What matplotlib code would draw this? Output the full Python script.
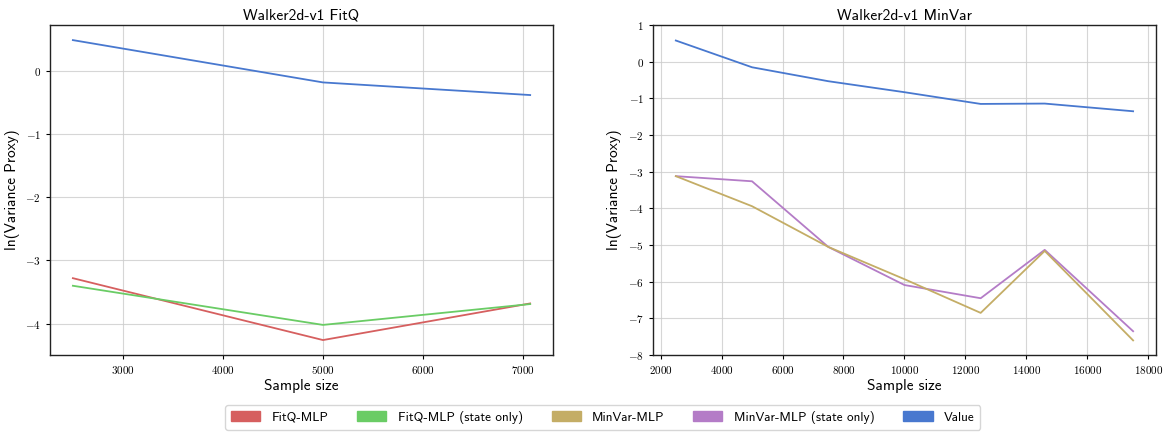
import numpy as np
import matplotlib
matplotlib.use("Agg")
import matplotlib.pyplot as plt
from matplotlib.patches import Patch

# FitQ panel
fitq_x = [2500, 5000, 7071]
fitq_mlp = [-3.28, -4.26, -3.68]
fitq_mlp_state = [-3.40, -4.02, -3.69]
fitq_value = [0.49, -0.18, -0.38]

# MinVar panel
minvar_x = [2500, 5000, 7500, 10000, 12500, 14600, 17500]
minvar_mlp = [-3.12, -3.94, -5.05, -5.93, -6.85, -5.16, -7.60]
minvar_mlp_state = [-3.12, -3.26, -5.05, -6.09, -6.45, -5.13, -7.35]
minvar_value = [0.58, -0.15, -0.53, -0.83, -1.15, -1.14, -1.35]

labels = ["FitQ-MLP", "FitQ-MLP (state only)", "MinVar-MLP", "MinVar-MLP (state only)", "Value"]
colors = ["#D65F5F", "#6ACC65", "#C4AD66", "#B47CC7", "#4878CF"]

plt.rcParams["font.family"] = "cmr10"
plt.rcParams["mathtext.fontset"] = "cm"
plt.rcParams["axes.formatter.use_mathtext"] = True
plt.rcParams["axes.unicode_minus"] = True

fig = plt.figure(figsize=(11.66, 4.33), dpi=100)
ax1 = fig.add_axes([0.0429, 0.180, 0.4314, 0.762])
ax2 = fig.add_axes([0.5600, 0.180, 0.4314, 0.762])

ax1.plot(fitq_x, fitq_value, color=colors[4], lw=1.3)
ax1.plot(fitq_x, fitq_mlp, color=colors[0], lw=1.3)
ax1.plot(fitq_x, fitq_mlp_state, color=colors[1], lw=1.3)
ax1.set_title("Walker2d-v1 FitQ", fontfamily="cmss10", fontsize=11.2, pad=4)

ax2.plot(minvar_x, minvar_value, color=colors[4], lw=1.3)
ax2.plot(minvar_x, minvar_mlp_state, color=colors[3], lw=1.3)
ax2.plot(minvar_x, minvar_mlp, color=colors[2], lw=1.3)
ax2.set_ylim(-8, 1)
ax2.set_title("Walker2d-v1 MinVar", fontfamily="cmss10", fontsize=11.2, pad=4)

for ax in (ax1, ax2):
    ax.grid(True, color="#cccccc", lw=0.8, alpha=0.8)
    ax.set_axisbelow(True)
    ax.set_xlabel("Sample size", fontfamily="cmss10", fontsize=11, labelpad=2)
    ax.set_ylabel("ln(Variance Proxy)", fontfamily="cmss10", fontsize=11, labelpad=4)
    ax.tick_params(labelsize=8, length=3, width=0.8)
    for s in ax.spines.values():
        s.set_color("#222222")
        s.set_linewidth(1.0)

handles = [Patch(facecolor=c, edgecolor=c) for c in colors]
leg = fig.legend(handles, labels, loc="center", bbox_to_anchor=(0.517, 0.036), ncol=5,
                 prop={"family": "cmss10", "size": 9.5}, columnspacing=2.2, handlelength=2.2,
                 handleheight=0.8, handletextpad=0.85, frameon=True, fancybox=True,
                 borderpad=0.45)
leg.get_frame().set_edgecolor("#cccccc")

fig.savefig("out.png", dpi=100)
